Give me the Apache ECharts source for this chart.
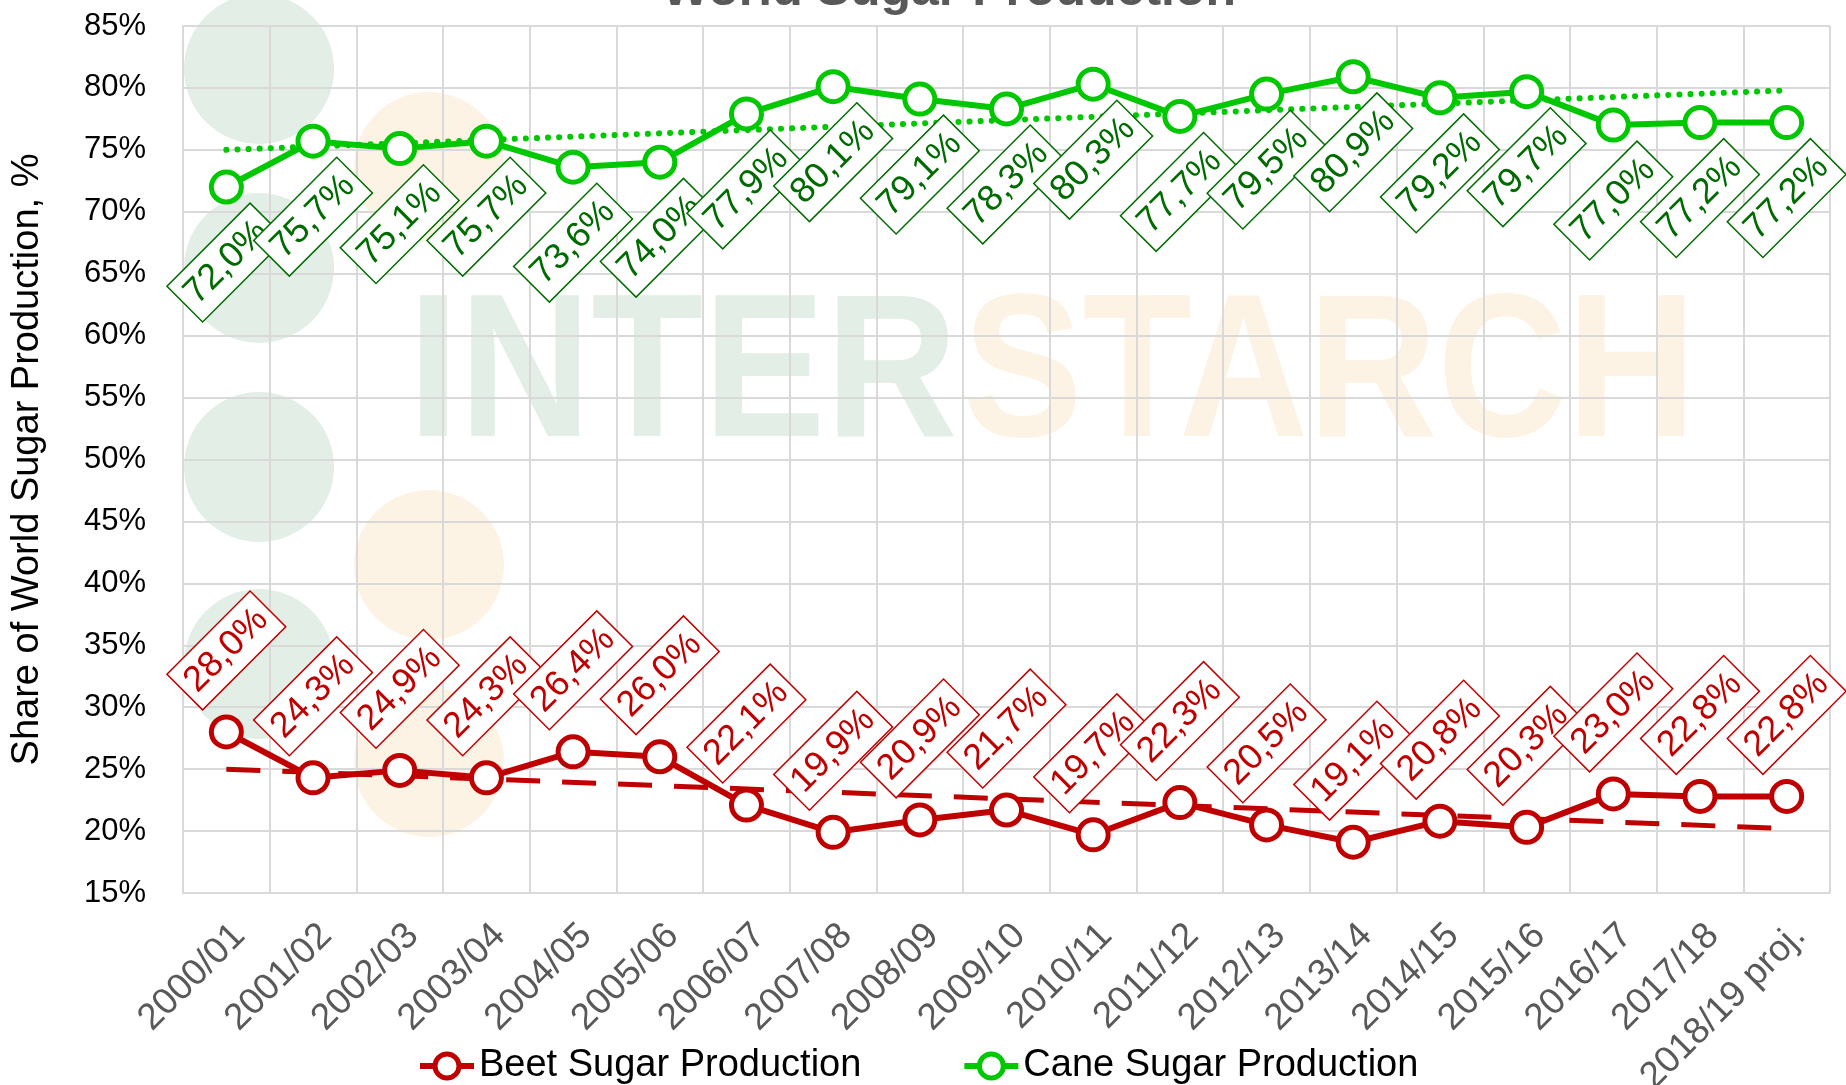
<!DOCTYPE html>
<html>
<head>
<meta charset="utf-8">
<title>World Sugar Production</title>
<script src="https://cdn.jsdelivr.net/npm/echarts@6/dist/echarts.min.js"></script>
<style>
  html, body { margin: 0; padding: 0; background: #fff; }
  #chart { width: 1846px; height: 1085px; }
</style>
</head>
<body>
<div id="chart"></div>
<script>
// seasons on the x axis
const categories = [
  '2000/01', '2001/02', '2002/03', '2003/04', '2004/05', '2005/06', '2006/07',
  '2007/08', '2008/09', '2009/10', '2010/11', '2011/12', '2012/13', '2013/14',
  '2014/15', '2015/16', '2016/17', '2017/18', '2018/19 proj.'
];
// share of world sugar production, %
const beetShare = [28.0, 24.3, 24.9, 24.3, 26.4, 26.0, 22.1, 19.9, 20.9, 21.7, 19.7, 22.3, 20.5, 19.1, 20.8, 20.3, 23.0, 22.8, 22.8];
const caneShare = [72.0, 75.7, 75.1, 75.7, 73.6, 74.0, 77.9, 80.1, 79.1, 78.3, 80.3, 77.7, 79.5, 80.9, 79.2, 79.7, 77.0, 77.2, 77.2];
// linear trend lines, value at first and last season
const beetTrend = [25.0, 20.2];
const caneTrend = [75.0, 79.8];
// y axis ticks
const yMin = 15, yMax = 85, yStep = 5;

const FONT = '"Liberation Sans", Arial, sans-serif';
const RED = '#C00000';
const GREEN = '#00C800';
const DARKGREEN = '#006B00';
const WM_FONT = 'bold 205px "Liberation Sans", sans-serif';

const fmt = (v) => v.toFixed(1).replace('.', ',') + '%';
const trendData = (t) => [[categories[0], t[0]], [categories[categories.length - 1], t[1]]];

const chart = echarts.init(document.getElementById('chart'));

const option = {
  backgroundColor: '#fff',
  animation: false,
  title: {
    text: 'World Sugar Production',
    left: 944,
    top: -39,
    textAlign: 'center',
    textStyle: { fontFamily: FONT, fontSize: 50, fontWeight: 'bold', color: '#595959' }
  },
  graphic: [
    // watermark behind the plot
    { type: 'circle', z: -10, silent: true, shape: { cx: 259, cy: 69, r: 75 }, style: { fill: '#e3eee7' } },
    { type: 'circle', z: -10, silent: true, shape: { cx: 259, cy: 268, r: 75 }, style: { fill: '#e3eee7' } },
    { type: 'circle', z: -10, silent: true, shape: { cx: 259, cy: 467, r: 75 }, style: { fill: '#e3eee7' } },
    { type: 'circle', z: -10, silent: true, shape: { cx: 259, cy: 664, r: 75 }, style: { fill: '#e3eee7' } },
    { type: 'circle', z: -10, silent: true, shape: { cx: 429, cy: 167, r: 75 }, style: { fill: '#fdf3e4' } },
    { type: 'circle', z: -10, silent: true, shape: { cx: 429, cy: 565, r: 75 }, style: { fill: '#fdf3e4' } },
    { type: 'circle', z: -10, silent: true, shape: { cx: 429, cy: 762, r: 75 }, style: { fill: '#fdf3e4' } },
    {
      type: 'text', z: -10, silent: true, x: 408, y: 379, scaleX: 0.894,
      style: { text: 'INTER', fill: '#e3eee7', font: WM_FONT, verticalAlign: 'middle' }
    },
    {
      type: 'text', z: -10, silent: true, x: 963, y: 379, scaleX: 0.874,
      style: { text: 'STARCH', fill: '#fdf3e4', font: WM_FONT, verticalAlign: 'middle' }
    }
  ],
  legend: {
    data: ['Beet Sugar Production', 'Cane Sugar Production'],
    left: 412,
    top: 1042,
    itemWidth: 54,
    itemHeight: 30,
    itemGap: 100,
    lineStyle: { width: 6 },
    itemStyle: { borderWidth: 5 },
    textStyle: { fontFamily: FONT, fontSize: 38, color: '#000' }
  },
  grid: { left: 183, right: 16, top: 26, bottom: 192, outerBoundsMode: 'none' },
  xAxis: {
    type: 'category',
    data: categories,
    boundaryGap: true,
    axisLine: { show: true, lineStyle: { color: '#d9d9d9', width: 2 } },
    axisTick: { show: false },
    splitLine: { show: true, lineStyle: { color: '#d9d9d9', width: 2 } },
    axisLabel: {
      interval: 0,
      rotate: 45,
      margin: 24,
      verticalAlign: 'top',
      fontFamily: FONT,
      fontSize: 37,
      color: '#595959'
    }
  },
  yAxis: {
    type: 'value',
    min: yMin,
    max: yMax,
    interval: yStep,
    name: 'Share of World Sugar Production, %',
    nameLocation: 'middle',
    nameGap: 136,
    nameTextStyle: { fontFamily: FONT, fontSize: 38, color: '#000' },
    axisLine: { show: true, lineStyle: { color: '#d9d9d9', width: 2 } },
    axisTick: { show: false },
    splitLine: { lineStyle: { color: '#d9d9d9', width: 2 } },
    axisLabel: {
      margin: 37,
      fontFamily: FONT,
      fontSize: 31,
      color: '#000',
      formatter: '{value}%'
    }
  },
  series: [
    {
      name: 'Beet Sugar Production',
      type: 'line',
      z: 4,
      data: beetShare,
      symbol: 'circle',
      symbolSize: 30,
      lineStyle: { color: RED, width: 6 },
      itemStyle: { color: '#fff', borderColor: RED, borderWidth: 5 },
      label: {
        show: true,
        position: 'top',
        distance: 64,
        rotate: 45,
        align: 'center',
        verticalAlign: 'middle',
        formatter: (p) => fmt(p.value),
        fontFamily: FONT,
        fontSize: 36,
        lineHeight: 41,
        color: RED,
        backgroundColor: '#fff',
        borderColor: RED,
        borderWidth: 1.5,
        padding: [4, 7]
      }
    },
    {
      name: 'Cane Sugar Production',
      type: 'line',
      z: 4,
      data: caneShare,
      symbol: 'circle',
      symbolSize: 30,
      lineStyle: { color: GREEN, width: 6 },
      itemStyle: { color: '#fff', borderColor: GREEN, borderWidth: 5 },
      label: {
        show: true,
        position: 'bottom',
        distance: 58,
        rotate: 45,
        align: 'center',
        verticalAlign: 'middle',
        formatter: (p) => fmt(p.value),
        fontFamily: FONT,
        fontSize: 36,
        lineHeight: 41,
        color: DARKGREEN,
        backgroundColor: '#fff',
        borderColor: DARKGREEN,
        borderWidth: 1.5,
        padding: [4, 7]
      }
    },
    {
      name: 'Beet trend',
      type: 'line',
      z: 3,
      silent: true,
      data: trendData(beetTrend),
      symbol: 'none',
      lineStyle: { color: RED, width: 5, type: [34, 22] }
    },
    {
      name: 'Cane trend',
      type: 'line',
      z: 3,
      silent: true,
      data: trendData(caneTrend),
      symbol: 'none',
      lineStyle: { color: GREEN, width: 6, type: [0.1, 11], cap: 'round' }
    }
  ]
};

chart.setOption(option);
window.addEventListener('resize', () => chart.resize());
</script>
</body>
</html>
